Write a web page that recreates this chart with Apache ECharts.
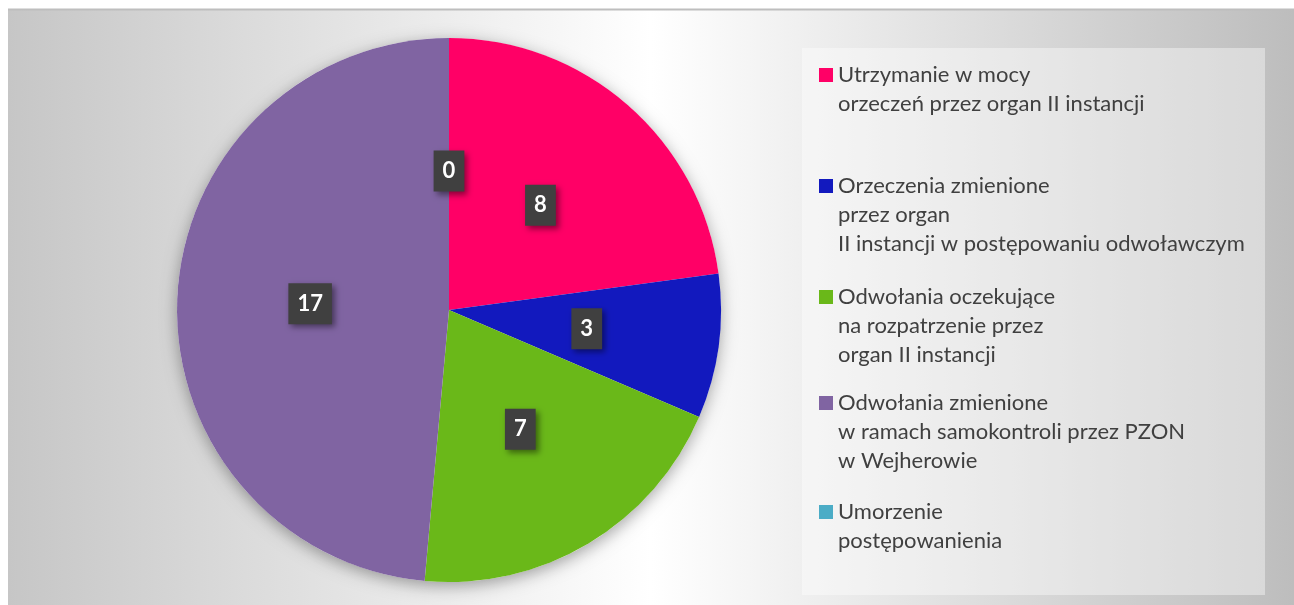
<!DOCTYPE html>
<html>
<head>
<meta charset="utf-8">
<script src="https://cdn.jsdelivr.net/npm/echarts@6/dist/echarts.min.js"></script>
<style>
  html, body { margin: 0; padding: 0; background: #fff; }
  #chart { width: 1294px; height: 605px; }
</style>
</head>
<body>
<div id="chart"></div>
<script>
// data
const categories = [
  'Utrzymanie w mocy\norzeczeń przez organ II instancji',
  'Orzeczenia zmienione\nprzez organ\nII instancji w postępowaniu odwoławczym',
  'Odwołania oczekujące\nna rozpatrzenie przez\norgan II instancji',
  'Odwołania zmienione\nw ramach samokontroli przez PZON\nw Wejherowie',
  'Umorzenie\npostępowanienia'
];
const values = [8, 3, 7, 17, 0];
const colors = ['#FF0066', '#1219BE', '#6AB819', '#8064A2', '#4BACC6'];

const total = values.reduce((a, b) => a + b, 0);
const lineH = 29;
// vertical centre of each legend item's first line
const legendRows = [75, 186, 297, 403, 512];

var myChart = echarts.init(document.getElementById('chart'));

// legend icon sits at the middle of the text block, so pad the text with
// empty lines on top to bring the first real line level with the icon
const legends = categories.map((name, i) => {
  const n = name.split('\n').length;
  return {
    data: [name],
    left: 819,
    top: legendRows[i] - (2 * n - 1) * lineH / 2,
    padding: 0,
    itemWidth: 14,
    itemHeight: 14,
    icon: 'rect',
    selectedMode: false,
    formatter: (nm) => '\n'.repeat(n - 1) + nm,
    textStyle: {
      color: '#404040',
      fontSize: 22,
      fontFamily: 'Lato',
      lineHeight: lineH
    }
  };
});

myChart.setOption({
  animation: false,
  backgroundColor: '#fff',
  color: colors,
  graphic: [
    {
      type: 'rect',
      z: -10,
      shape: { x: 8, y: 9, width: 1286, height: 596 },
      style: {
        fill: {
          type: 'linear', x: 0, y: 0, x2: 1, y2: 0,
          colorStops: [
            { offset: 0, color: '#c6c6c6' },
            { offset: 0.5, color: '#ffffff' },
            { offset: 1, color: '#bdbdbd' }
          ]
        }
      }
    },
    {
      type: 'line',
      z: -9,
      shape: { x1: 8, y1: 9.5, x2: 1294, y2: 9.5 },
      style: { stroke: '#bebebe', lineWidth: 2 }
    },
    {
      type: 'rect',
      z: -8,
      shape: { x: 802, y: 48, width: 463, height: 547 },
      style: { fill: 'rgba(255,255,255,0.4)' }
    }
  ],
  legend: legends,
  series: [
    {
      // soft drop shadow under the whole pie
      type: 'pie',
      silent: true,
      center: [449, 310],
      radius: 272,
      z: 1,
      label: { show: false },
      labelLine: { show: false },
      itemStyle: {
        color: '#ffffff',
        shadowBlur: 16,
        shadowColor: 'rgba(0,0,0,0.35)',
        shadowOffsetY: 4
      },
      data: [{ value: total, name: '_shadow' }]
    },
    {
      type: 'pie',
      center: [449, 310],
      radius: 272,
      startAngle: 90,
      z: 2,
      itemStyle: { borderWidth: 0 },
      label: {
        show: true,
        position: 'inside',
        formatter: '{c}',
        color: '#ffffff',
        fontSize: 22,
        fontWeight: 'bold',
        fontFamily: 'Lato',
        lineHeight: 25,
        backgroundColor: '#404040',
        padding: [8, 9],
        shadowBlur: 6,
        shadowOffsetX: 3,
        shadowOffsetY: 3,
        shadowColor: 'rgba(0,0,0,0.45)'
      },
      labelLine: { show: false },
      data: categories.map((name, i) => ({ name: name, value: values[i] }))
    }
  ]
});
</script>
</body>
</html>
